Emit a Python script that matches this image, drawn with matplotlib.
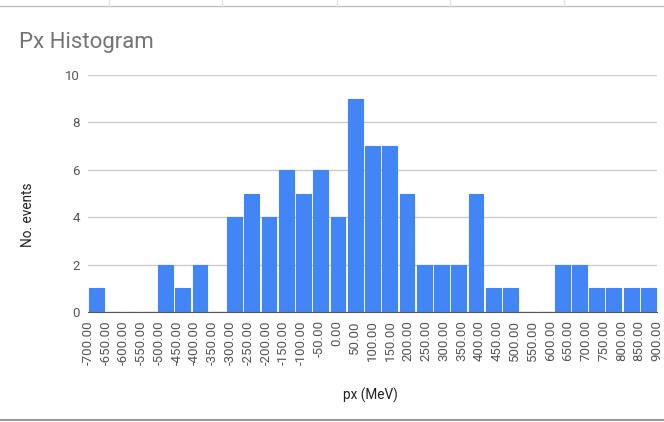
import numpy as np
import matplotlib
matplotlib.use("Agg")
import matplotlib.pyplot as plt
from matplotlib.lines import Line2D

# bin labels (MeV) and counts per bin
bin_labels = ["%.2f" % v for v in range(-700, 901, 50)]
counts = [1, 0, 0, 0, 2, 1, 2, 0, 4, 5, 4, 6, 5, 6, 4, 9, 7, 7, 5, 2, 2, 2,
          5, 1, 1, 0, 0, 2, 2, 1, 1, 1, 1]
y_ticks = [0, 2, 4, 6, 8, 10]

plt.rcParams['font.family'] = ['Roboto', 'DejaVu Sans']

W, H = 664, 422
fig = plt.figure(figsize=(W / 100, H / 100), dpi=100)

# plot area in pixels: x 88..657, y 75..312
left, right, top, bottom = 88, 657, 75, 312
ax = fig.add_axes([left / W, 1 - bottom / H, (right - left) / W, (bottom - top) / H])

blue = "#4285f4"
x = np.arange(len(counts))
ax.bar(x, counts, width=0.86, color=blue, edgecolor=blue, linewidth=0.8, zorder=3)

ax.set_xlim(-0.5, len(counts) - 0.5)
ax.set_ylim(0, 10)
ax.set_yticks(y_ticks)
ax.set_yticklabels([str(v) for v in y_ticks], fontsize=9.5, color="#555555")
ax.grid(axis="y", color="#cccccc", linewidth=1, zorder=0)

# Google spreads the labels across the full width
ax.set_xticks(np.linspace(-0.5, len(counts) - 0.5, len(bin_labels)))
ax.set_xticklabels(bin_labels, rotation=90, fontsize=9.5, color="#555555")
ax.tick_params(length=0, pad=6)
for s in ["top", "right", "left"]:
    ax.spines[s].set_visible(False)
ax.spines["bottom"].set_color("#555555")
ax.spines["bottom"].set_zorder(4)

fig.text(19 / W, 1 - 48 / H, "Px Histogram", fontsize=16, color="#757575",
         va="baseline", ha="left")
fig.text(28 / W, 1 - 215 / H, "No. events", fontsize=9.8, color="#222222",
         rotation=90, va="center", ha="center")
fig.text(370 / W, 1 - 395 / H, "px (MeV)", fontsize=9.8, color="#222222",
         va="center", ha="center")

# spreadsheet cell borders around the chart
fig.add_artist(Line2D([0, 1], [1 - 6 / H, 1 - 6 / H], color="#c0c0c0", lw=1))
for vx in [109, 222, 337, 450, 564]:
    fig.add_artist(Line2D([vx / W, vx / W], [1 - 6 / H, 1], color="#e2e2e2", lw=1))
fig.add_artist(Line2D([0, 1], [1 - 420 / H, 1 - 420 / H], color="#999999", lw=1.5))

fig.savefig("out.png", dpi=100)
